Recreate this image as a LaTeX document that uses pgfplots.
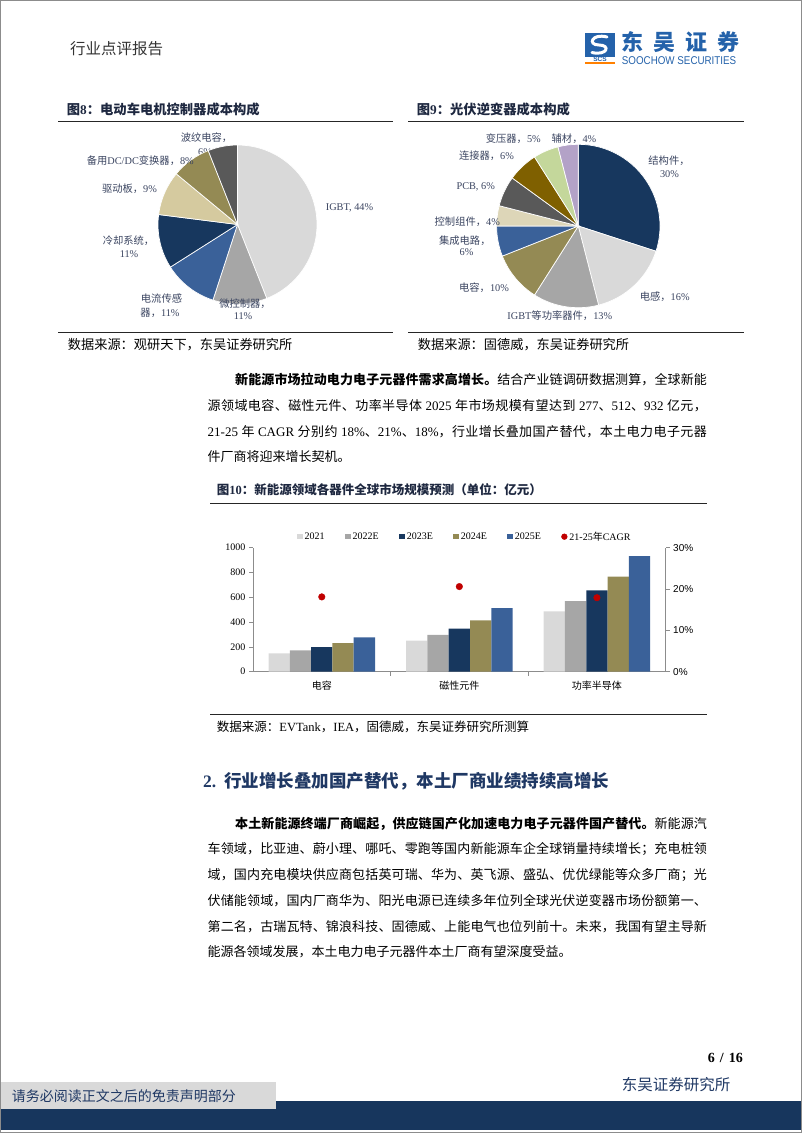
\documentclass[border=0pt]{standalone}
\usepackage{pgfplots}
\pgfplotsset{compat=1.18}
\usepackage{pgfplotstable}
\usepackage{fontspec}
\setmainfont{Liberation Serif}
\newfontfamily\cjk{Noto Sans CJK SC}
\newfontfamily\arial{Liberation Sans}
\newcount\cc
\cc="3000 \loop \XeTeXcharclass\cc=7 \advance\cc by 1 \ifnum\cc<"3040 \repeat
\cc="4E00 \loop \XeTeXcharclass\cc=7 \advance\cc by 1 \ifnum\cc<"A000 \repeat
\cc="FF00 \loop \XeTeXcharclass\cc=7 \advance\cc by 1 \ifnum\cc<"FF60 \repeat
\XeTeXinterchartokenstate=1
\XeTeXinterchartoks 7 7 = {\hskip 0pt plus 1pt\relax}

\definecolor{cL}{HTML}{D9D9D9}
\definecolor{cG}{HTML}{A6A6A6}
\definecolor{cN}{HTML}{17375E}
\definecolor{cO}{HTML}{948A54}
\definecolor{cB}{HTML}{3A6199}
\definecolor{cBe}{HTML}{D5CA9F}
\definecolor{cBe2}{HTML}{DDD6B8}
\definecolor{cD}{HTML}{595959}
\definecolor{cBr}{HTML}{7F6000}
\definecolor{cGr}{HTML}{C4D79B}
\definecolor{cPu}{HTML}{B3A2C7}
\definecolor{cR}{HTML}{C00000}
\definecolor{navy}{HTML}{1F3864}
\definecolor{band}{HTML}{17365D}
\definecolor{ttl}{HTML}{1E2840}
\definecolor{lbl}{HTML}{3A4460}
\definecolor{logob}{HTML}{2462AA}

\newcommand\tm[1]{{\rmfamily #1}}
\newcommand\ssp{\hspace{3.3pt plus 0.5pt}}
\newcommand\fs[1]{\fontsize{#1}{#1}\selectfont}
\newcommand\body{\cjk\fs{13}}
\newcommand\jline[4]{\node[anchor=west,inner sep=0pt] at (#1,-#2) {\makebox[#3pt][s]{\body #4}};}
\newcommand\nline[3]{\node[anchor=west,inner sep=0pt] at (#1,-#2) {\body #3};}
\newcommand\lab[3]{\node[inner sep=0pt,text=lbl] at (#1,-#2) {\cjk\fs{10.3}#3};}
\newcommand\slice[4]{\fill[#4,draw=white,line width=0.7pt] (axis cs:0,0) -- ++({90-3.6*(#2)}:#1pt) arc[start angle={90-3.6*(#2)}, end angle={90-3.6*(#2+#3)}, radius=#1pt] -- cycle;}

\pgfplotstableread{
x y21 y22 y23 y24 y25 cagr
0 148 172 199 231 277 18.1
1 250 298 347 414 512 20.6
2 487 570 656 766 932 17.9
}\datatable

\begin{document}
\begin{tikzpicture}
\path[use as bounding box] (0,0) rectangle (802pt,-1133pt);
\begin{scope}[x=1pt,y=1pt]
% page frame
\draw[black!45,line width=1pt] (0.5,-0.5) rectangle (801.5,-1132.5);
% header
\node[anchor=west,inner sep=0pt,text=black!80] at (70,-48.3) {\cjk\fs{15.5}行业点评报告};
\fill[logob] (585,-32.7) rectangle (615,-56.7);
\draw[white,line width=3pt,line cap=round] (607,-37) .. controls (592,-33) and (587,-45) .. (599,-45) .. controls (611,-45) and (607,-56) .. (592,-52.5);
\node[inner sep=0pt,text=logob] at (600,-59.3) {\arial\bfseries\fs{6.5}SCS};
\draw[orange,line width=1.2pt] (585,-63) -- (615,-63);
\node[anchor=west,inner sep=0pt,text=logob] at (621.7,-42.5) {\makebox[118pt][s]{\cjk\bfseries\fs{22}东\hfil 吴\hfil 证\hfil 券}};
\node[anchor=west,inner sep=0pt,text=logob,yscale=1.15] at (621.7,-60.7) {\arial\fs{9.8}SOOCHOW SECURITIES};
% figure 8 / 9 frames
\node[anchor=west,inner sep=0pt,text=ttl] at (66.7,-109) {\cjk\bfseries\fs{13.3}图\tm{8}：电动车电机控制器成本构成};
\node[anchor=west,inner sep=0pt,text=ttl] at (416.7,-109) {\cjk\bfseries\fs{13.3}图\tm{9}：光伏逆变器成本构成};
\draw[black!85,line width=1.3pt] (58,-121.7) -- (393,-121.7);
\draw[black!85,line width=1.3pt] (408,-121.7) -- (744,-121.7);
\draw[black!85,line width=1.3pt] (58,-332.3) -- (393,-332.3);
\draw[black!85,line width=1.3pt] (408,-332.3) -- (744,-332.3);
\node[anchor=west,inner sep=0pt] at (67.7,-344.3) {\cjk\fs{13.2}数据来源：观研天下，东吴证券研究所};
\node[anchor=west,inner sep=0pt] at (417.7,-344.3) {\cjk\fs{13.2}数据来源：固德威，东吴证券研究所};
\lab{205}{151.7}{\tm{6\%}}
% paragraph 1
\jline{235}{380}{471.7}{{\bfseries 新能源市场拉动电力电子元器件需求高增长。}结合产业链调研数据测算，全球新能}
\jline{207.5}{406}{499.2}{源领域电容、磁性元件、功率半导体\ssp\tm{2025}\ssp 年市场规模有望达到\ssp\tm{277}、\tm{512}、\tm{932}\ssp 亿元，}
\jline{207.5}{431.5}{499.2}{\tm{21-25}\ssp 年\ssp\tm{CAGR}\ssp 分别约\ssp\tm{18\%}、\tm{21\%}、\tm{18\%}，行业增长叠加国产替代，本土电力电子元器}
\nline{207.5}{457}{件厂商将迎来增长契机。}
% figure 10 frame
\node[anchor=west,inner sep=0pt,text=ttl] at (216.7,-490) {\cjk\bfseries\fs{12.5}图\tm{10}：新能源领域各器件全球市场规模预测（单位：亿元）};
\draw[black!85,line width=1.3pt] (210,-503.3) -- (706.7,-503.3);
\draw[black!85,line width=1.3pt] (210,-714.3) -- (706.7,-714.3);
\node[anchor=west,inner sep=0pt] at (216.7,-726.7) {\cjk\fs{12.5}数据来源：\tm{EVTank}，\tm{IEA}，固德威，东吴证券研究所测算};
% section 2
\node[anchor=west,inner sep=0pt,text=navy] at (203,-781.7) {\bfseries\fs{17.5}\tm{2.}\hspace{8pt}\cjk 行业增长叠加国产替代，本土厂商业绩持续高增长};
\jline{235}{823.5}{471.7}{{\bfseries 本土新能源终端厂商崛起，供应链国产化加速电力电子元器件国产替代。}新能源汽}
\jline{207.5}{849.5}{499.2}{车领域，比亚迪、蔚小理、哪吒、零跑等国内新能源车企全球销量持续增长；充电桩领}
\jline{207.5}{875.5}{499.2}{域，国内充电模块供应商包括英可瑞、华为、英飞源、盛弘、优优绿能等众多厂商；光}
\jline{207.5}{901}{499.2}{伏储能领域，国内厂商华为、阳光电源已连续多年位列全球光伏逆变器市场份额第一、}
\jline{207.5}{926.5}{499.2}{第二名，古瑞瓦特、锦浪科技、固德威、上能电气也位列前十。未来，我国有望主导新}
\nline{207.5}{952}{能源各领域发展，本土电力电子元器件本土厂商有望深度受益。}
% footer
\node[anchor=east,inner sep=0pt] at (743,-1058) {\bfseries\fs{14}6\hspace{5pt}/\hspace{5pt}16};
\node[anchor=west,inner sep=0pt,text=navy] at (621.7,-1085) {\cjk\fs{15.5}东吴证券研究所};
\fill[band] (1,-1100.7) rectangle (801,-1130);
\fill[black!15] (1,-1081.7) rectangle (276,-1109.3);
\node[anchor=west,inner sep=0pt,text=navy] at (11.7,-1096) {\cjk\fs{14}请务必阅读正文之后的免责声明部分};
\end{scope}

% ---------- pie 8 ----------
\begin{axis}[at={(237.5pt,-224.5pt)}, anchor=center, hide axis, scale only axis,
  x=1pt, y=1pt, xmin=-90, xmax=90, ymin=-90, ymax=90, clip=false]
\addplot[draw=none] coordinates {(0,0)};
\slice{79.5}{0}{44}{cL}
\slice{79.5}{44}{11}{cG}
\slice{79.5}{55}{11}{cB}
\slice{79.5}{66}{11}{cN}
\slice{79.5}{77}{9}{cBe}
\slice{79.5}{86}{8}{cO}
\slice{79.5}{94}{6}{cD}
\end{axis}
% ---------- pie 9 ----------
\begin{axis}[at={(578.3pt,-226pt)}, anchor=center, hide axis, scale only axis,
  x=1pt, y=1pt, xmin=-90, xmax=90, ymin=-90, ymax=90, clip=false]
\addplot[draw=none] coordinates {(0,0)};
\slice{81.7}{0}{30}{cN}
\slice{81.7}{30}{16}{cL}
\slice{81.7}{46}{13}{cG}
\slice{81.7}{59}{10}{cO}
\slice{81.7}{69}{6}{cB}
\slice{81.7}{75}{4}{cBe2}
\slice{81.7}{79}{6}{cD}
\slice{81.7}{85}{6}{cBr}
\slice{81.7}{91}{5}{cGr}
\slice{81.7}{96}{4}{cPu}
\end{axis}

\begin{scope}[x=1pt,y=1pt]
\lab{206.5}{137.7}{波纹电容，}
\lab{140.3}{160.7}{备用\tm{DC/DC}变换器，\tm{8\%}}
\lab{129.5}{189}{驱动板，\tm{9\%}}
\lab{128.5}{240.7}{冷却系统，}
\lab{129}{254}{\tm{11\%}}
\lab{161.5}{298.3}{电流传感}
\lab{160}{313.3}{器，\tm{11\%}}
\lab{245}{303.3}{微控制器，}
\lab{243}{315.7}{\tm{11\%}}
\lab{349.5}{208.3}{\tm{IGBT, 44\%}}
\lab{513.3}{139}{变压器，\tm{5\%}}
\lab{574}{139}{辅材，\tm{4\%}}
\lab{486.5}{156}{连接器，\tm{6\%}}
\lab{669}{160.7}{结构件，}
\lab{669.5}{174}{\tm{30\%}}
\lab{475.7}{187.3}{\tm{PCB, 6\%}}
\lab{467.3}{221.7}{控制组件，\tm{4\%}}
\lab{464.8}{241}{集成电路，}
\lab{466.5}{252.3}{\tm{6\%}}
\lab{484}{287.7}{电容，\tm{10\%}}
\lab{664.7}{297}{电感，\tm{16\%}}
\lab{559.8}{315.7}{\tm{IGBT}等功率器件，\tm{13\%}}
\end{scope}

% ---------- bar chart ----------
\begin{axis}[at={(253pt,-671.7pt)}, anchor=south west, scale only axis,
  width=412.7pt, height=124pt,
  xmin=-0.5, xmax=2.5, ymin=0, ymax=1000,
  ybar=0pt, bar width=21.3pt,
  axis x line*=bottom, axis y line*=left,
  axis line style={draw=black!45, line width=0.6pt},
  tick style={draw=black!45, line width=0.6pt},
  tick align=outside, major tick length=4pt,
  ytick={0,200,400,600,800,1000},
  yticklabel style={font=\fs{10}},
  /pgf/number format/assume math mode=true,
  /pgf/number format/1000 sep={},
  xtick={0.5,1.5}, xticklabels={},
  extra x ticks={0,1,2},
  extra x tick labels={电容,磁性元件,功率半导体},
  extra x tick style={major tick length=0pt, tick style={draw=none},
     xticklabel style={font=\cjk\fs{10}, yshift=-6pt}},
  legend style={at={(0.513,1.089)}, anchor=center, draw=none, fill=none,
     legend columns=6, font=\fs{10}, inner sep=0pt,
     /tikz/every even column/.append style={column sep=18.2pt}},
  legend cell align=left,
]
\addplot[fill=cL, draw=none, legend image code/.code={\fill[cL] (0pt,-2.8pt) rectangle (5.8pt,2.8pt);}] table[x=x,y=y21]{\datatable};
\addplot[fill=cG, draw=none, legend image code/.code={\fill[cG] (0pt,-2.8pt) rectangle (5.8pt,2.8pt);}] table[x=x,y=y22]{\datatable};
\addplot[fill=cN, draw=none, legend image code/.code={\fill[cN] (0pt,-2.8pt) rectangle (5.8pt,2.8pt);}] table[x=x,y=y23]{\datatable};
\addplot[fill=cO, draw=none, legend image code/.code={\fill[cO] (0pt,-2.8pt) rectangle (5.8pt,2.8pt);}] table[x=x,y=y24]{\datatable};
\addplot[fill=cB, draw=none, legend image code/.code={\fill[cB] (0pt,-2.8pt) rectangle (5.8pt,2.8pt);}] table[x=x,y=y25]{\datatable};
\addlegendimage{legend image code/.code={\fill[cR] (2.9pt,0pt) circle (2.9pt);}}
\legend{2021,2022E,2023E,2024E,2025E,21-25{\cjk 年}CAGR}
\end{axis}
\begin{axis}[at={(253pt,-671.7pt)}, anchor=south west, scale only axis,
  width=412.7pt, height=124pt,
  xmin=-0.5, xmax=2.5, ymin=0, ymax=30,
  axis x line=none, axis y line*=right,
  axis line style={draw=black!45, line width=0.6pt},
  tick style={draw=black!45, line width=0.6pt},
  tick align=outside, major tick length=4pt,
  ytick={0,10,20,30},
  /pgf/number format/assume math mode=true,
  yticklabel={\pgfmathprintnumber{\tick}\%},
  yticklabel style={font=\arial\fs{10}},
]
\addplot[only marks, mark=*, mark size=3.3pt, color=cR] table[x=x,y=cagr]{\datatable};
\end{axis}
\end{tikzpicture}
\end{document}
